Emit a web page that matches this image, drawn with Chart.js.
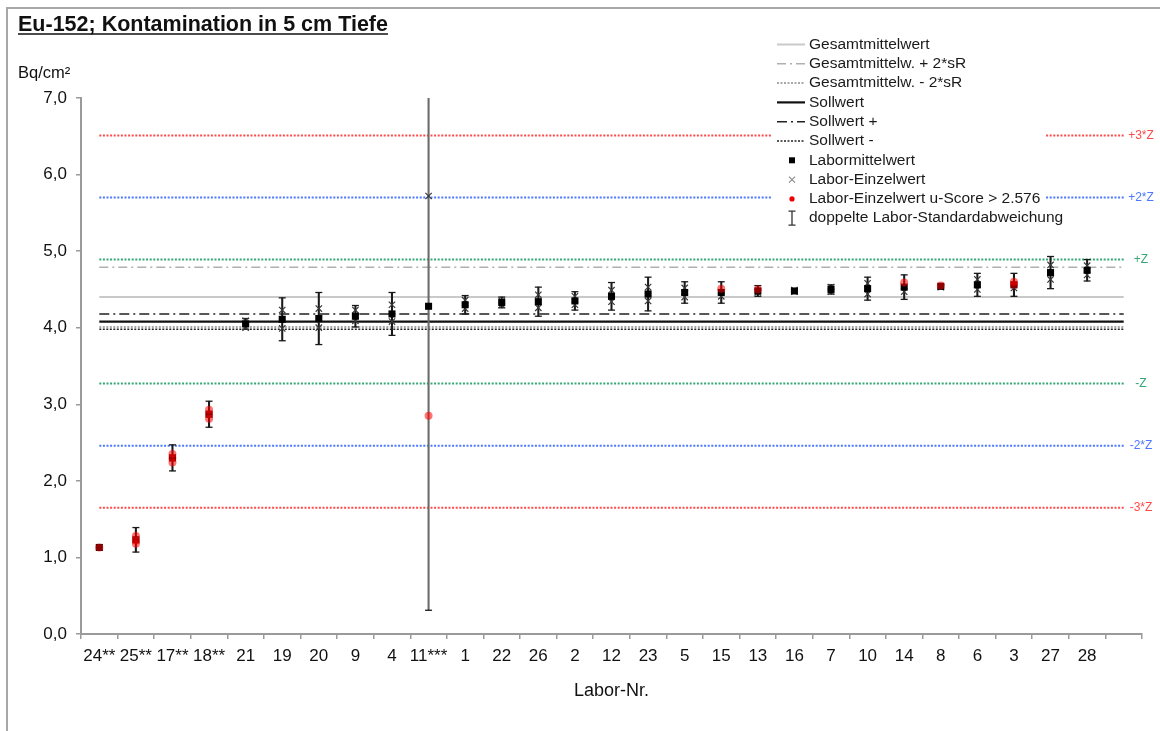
<!DOCTYPE html>
<html>
<head>
<meta charset="utf-8">
<title>Eu-152; Kontamination in 5 cm Tiefe</title>
<script src="https://cdn.jsdelivr.net/npm/chart.js@4.4.1/dist/chart.umd.min.js"></script>
<style>
  html, body { margin: 0; padding: 0; background: #fff; }
  canvas { display: block; }
</style>
</head>
<body>
<canvas id="chart" width="1160" height="731"></canvas>
<script>
// ---- Data -------------------------------------------------------------
const labs = ['24**','25**','17**','18**','21','19','20','9','4','11***','1','22','26','2','12',
              '23','5','15','13','16','7','10','14','8','6','3','27','28'];

// Labormittelwert (Bq/cm²)
const means = [1.13,1.23,2.30,2.87,4.05,4.11,4.12,4.15,4.18,4.28,4.30,4.33,4.34,4.35,4.41,
               4.44,4.46,4.46,4.48,4.48,4.50,4.51,4.53,4.54,4.56,4.56,4.72,4.75];

// doppelte Labor-Standardabweichung (half length of each error bar)
const sd2 = [0.00,0.16,0.17,0.17,0.07,0.28,0.34,0.14,0.28,3.97,0.12,0.07,0.19,0.12,0.18,
             0.22,0.14,0.14,0.07,0.01,0.06,0.15,0.16,0.02,0.15,0.15,0.21,0.14];

// Labor-Einzelwerte, one list per lab
const einzel = [[],[],[],[],[4.09,4.00],[4.23,3.99],[4.25,4.00],[4.23,4.09],[4.30,4.08],[5.72],
                [4.36,4.25],[4.35,4.30],[4.43,4.26],[4.41,4.30],[4.49,4.34],[4.53,4.35],[4.52,4.40],
                [4.41],[4.46],[4.49,4.47],[4.53,4.47],[4.58,4.44],[4.47],[4.53],[4.63,4.50],[4.52],
                [4.82,4.63],[4.81,4.69]];

// Labor-Einzelwerte with u-Score > 2.576, one list per lab
const einzelU = [[1.13],[1.28,1.18,1.22],[2.35,2.24,2.30],[2.93,2.81,2.87],[],[],[],[],[],[2.85],
                 [],[],[],[],[],[],[],[4.51],[4.50],[],[],[],[4.59],[4.55],[],[4.60,4.56],[],[]];

// Reference levels
const gesamtmittel = [4.40, 4.79, 4.01];   // Mittelwert, +2*sR, -2*sR
const sollwerte    = [4.08, 4.18, 3.98];   // Sollwert, +, -
const zLevels = [6.51, 5.70, 4.89, 3.27, 2.46, 1.65];
const zNames  = ['+3*Z', '+2*Z', '+Z', '-Z', '-2*Z', '-3*Z'];

const legendLabels = ['Gesamtmittelwert','Gesamtmittelw. + 2*sR','Gesamtmittelw. - 2*sR','Sollwert',
                      'Sollwert +','Sollwert -','Labormittelwert','Labor-Einzelwert',
                      'Labor-Einzelwert u-Score > 2.576','doppelte Labor-Standardabweichung'];

// ---- Chart setup ------------------------------------------------------
const FONT = "'Liberation Sans', Arial, sans-serif";
const categories = labs.concat(['']);          // one empty slot at the right end
const last = categories.length - 1;

const RED = '#ff4a4a', BLUE = '#4d78ff', GREEN = '#35a676';
const zColors = [RED, BLUE, GREEN, GREEN, BLUE, RED];

function levelLine(v, color, dash, width, order) {
  return {
    type: 'line',
    data: categories.map((_, i) => (i === 0 || i === last) ? v : null),
    spanGaps: true,
    borderColor: color,
    borderDash: dash,
    borderWidth: width,
    borderCapStyle: 'butt',
    pointRadius: 0,
    fill: false,
    order: order
  };
}

function pointsOf(lists) {
  const pts = [];
  lists.forEach((vals, i) => vals.forEach(v => pts.push({ x: labs[i], y: v })));
  return pts;
}

const lineStyles = [
  { color: '#c9c9c9', dash: [],            width: 2   },
  { color: '#b0b0b0', dash: [9, 4, 2, 4],  width: 1.5 },
  { color: '#8c8c8c', dash: [2, 1.5],      width: 1.5 },
  { color: '#111111', dash: [],            width: 2.2 },
  { color: '#222222', dash: [10, 4, 2, 4], width: 1.6 },
  { color: '#222222', dash: [2, 1.5],      width: 1.5 }
];

const datasets = [
  // markers (drawn on top)
  {
    type: 'line', label: legendLabels[8], data: pointsOf(einzelU), showLine: false,
    pointStyle: 'circle', pointRadius: 4, pointBackgroundColor: 'rgba(255,0,0,0.55)',
    pointBorderWidth: 0, order: 1
  },
  {
    type: 'line', label: legendLabels[6], data: labs.map((l, i) => ({ x: l, y: means[i] })), showLine: false,
    pointStyle: 'rect', pointRadius: 5, pointBackgroundColor: '#000', pointBorderColor: '#000',
    pointBorderWidth: 0, order: 2
  },
  {
    type: 'line', label: legendLabels[7], data: pointsOf(einzel), showLine: false,
    pointStyle: 'crossRot', pointRadius: 4.5, pointBorderColor: '#3a3a3a', pointBorderWidth: 1.2,
    order: 3
  },
  // error bars as thin floating bars
  {
    type: 'bar', label: legendLabels[9],
    data: labs.map((l, i) => [means[i] - sd2[i], means[i] + sd2[i]]),
    barThickness: 1.4, grouped: false,
    backgroundColor: ctx => (ctx.raw && ctx.raw[1] - ctx.raw[0] > 3 ? '#6a6a6a' : '#1a1a1a'),
    borderWidth: 0, order: 4
  }
];

gesamtmittel.forEach((v, i) => datasets.push(
  Object.assign(levelLine(v, lineStyles[i].color, lineStyles[i].dash, lineStyles[i].width, 6), { label: legendLabels[i] })));
sollwerte.forEach((v, i) => datasets.push(
  Object.assign(levelLine(v, lineStyles[i + 3].color, lineStyles[i + 3].dash, lineStyles[i + 3].width, 5), { label: legendLabels[i + 3] })));
zLevels.forEach((v, i) => datasets.push(
  Object.assign(levelLine(v, zColors[i], [2, 1.6], 2, 7), { label: zNames[i] })));

// ---- Plugins ----------------------------------------------------------
const pagePlugin = {
  id: 'page',
  beforeDraw(chart) {
    const c = chart.ctx;
    c.save();
    c.fillStyle = '#fff';
    c.fillRect(0, 0, chart.width, chart.height);
    // frame
    c.strokeStyle = '#a8a8a8';
    c.lineWidth = 2;
    c.beginPath();
    c.moveTo(7, chart.height);
    c.lineTo(7, 8);
    c.lineTo(chart.width, 8);
    c.stroke();
    // heading
    c.fillStyle = '#111';
    c.font = 'bold 21.5px ' + FONT;
    c.textBaseline = 'alphabetic';
    c.textAlign = 'left';
    const t = 'Eu-152; Kontamination in 5 cm Tiefe';
    c.fillText(t, 18, 31);
    const w = c.measureText(t).width;
    c.lineWidth = 1.6;
    c.strokeStyle = '#111';
    c.beginPath();
    c.moveTo(18, 34);
    c.lineTo(18 + w, 34);
    c.stroke();
    // unit
    c.font = '16.5px ' + FONT;
    c.fillText('Bq/cm²', 18, 78);
    c.restore();
  }
};

const capsPlugin = {
  id: 'caps',
  afterDatasetDraw(chart, args) {
    const ds = chart.data.datasets[args.index];
    if (ds.type !== 'bar') return;
    const c = chart.ctx, a = chart.chartArea;
    c.save();
    c.beginPath();
    c.rect(a.left, a.top, a.right - a.left, a.bottom - a.top);
    c.clip();
    c.strokeStyle = '#1a1a1a';
    c.lineWidth = 1.3;
    args.meta.data.forEach((el, i) => {
      if (sd2[i] <= 0.02) return;
      [el.y, el.base].forEach(py => {
        c.beginPath();
        c.moveTo(el.x - 3.5, py);
        c.lineTo(el.x + 3.5, py);
        c.stroke();
      });
    });
    c.restore();
  }
};

function drawSymbol(c, kind, x, y) {
  c.save();
  if (kind < 6) {
    const s = lineStyles[kind];
    c.strokeStyle = s.color;
    c.lineWidth = s.width;
    c.setLineDash(s.dash);
    c.beginPath();
    c.moveTo(777, y);
    c.lineTo(805, y);
    c.stroke();
  } else if (kind === 6) {
    c.fillStyle = '#000';
    c.fillRect(x - 3, y - 3, 6, 6);
  } else if (kind === 7) {
    c.strokeStyle = '#8a8a8a';
    c.lineWidth = 1.1;
    c.beginPath();
    c.moveTo(x - 3, y - 3); c.lineTo(x + 3, y + 3);
    c.moveTo(x + 3, y - 3); c.lineTo(x - 3, y + 3);
    c.stroke();
  } else if (kind === 8) {
    c.fillStyle = '#ee0000';
    c.beginPath();
    c.arc(x, y, 2.6, 0, Math.PI * 2);
    c.fill();
  } else {
    c.strokeStyle = '#333';
    c.lineWidth = 1.3;
    c.beginPath();
    c.moveTo(x, y - 7); c.lineTo(x, y + 7);
    c.moveTo(x - 3.5, y - 7); c.lineTo(x + 3.5, y - 7);
    c.moveTo(x - 3.5, y + 7); c.lineTo(x + 3.5, y + 7);
    c.stroke();
  }
  c.restore();
}

const overlayPlugin = {
  id: 'overlay',
  afterDraw(chart) {
    const c = chart.ctx;
    const ys = chart.scales.y;
    c.save();
    // Z labels at the right end of each limit line
    c.font = '12px ' + FONT;
    c.textAlign = 'center';
    c.textBaseline = 'middle';
    zLevels.forEach((v, i) => {
      c.fillStyle = zColors[i];
      c.fillText(zNames[i], 1141, ys.getPixelForValue(v));
    });
    // legend
    c.fillStyle = '#fff';
    c.fillRect(772, 34, 274, 196);
    c.font = '15.5px ' + FONT;
    c.textAlign = 'left';
    c.textBaseline = 'middle';
    legendLabels.forEach((txt, i) => {
      const y = 44.5 + 19.3 * i;
      drawSymbol(c, i, 792, y);
      c.fillStyle = '#1a1a1a';
      c.fillText(txt, 809, y);
    });
    c.restore();
  }
};

// ---- Chart ------------------------------------------------------------
new Chart(document.getElementById('chart'), {
  type: 'line',
  data: { labels: categories, datasets: datasets },
  options: {
    responsive: false,
    animation: false,
    devicePixelRatio: 1,
    layout: { padding: { left: 0, right: 18, top: 98, bottom: 0 } },
    plugins: { legend: { display: false }, tooltip: { enabled: false } },
    scales: {
      x: {
        type: 'category',
        offset: true,
        grid: { drawOnChartArea: false, offset: true, tickLength: 5, color: '#9a9a9a', lineWidth: 1.5 },
        border: { color: '#9a9a9a', width: 2 },
        ticks: { autoSkip: false, maxRotation: 0, minRotation: 0, padding: 7, color: '#111',
                 font: { family: FONT, size: 17 } },
        title: { display: true, text: 'Labor-Nr.', color: '#111', font: { family: FONT, size: 18 },
                 padding: { top: 0, bottom: 29 } },
        afterFit(s) { s.height = 97; }
      },
      y: {
        min: 0, max: 7,
        grid: { drawOnChartArea: false, tickLength: 5, color: '#9a9a9a', lineWidth: 1.5 },
        border: { color: '#9a9a9a', width: 2 },
        ticks: { stepSize: 1, padding: 9, color: '#111', font: { family: FONT, size: 17 },
                 callback: v => v.toFixed(1).replace('.', ',') },
        afterFit(s) { s.width = 81; }
      }
    }
  },
  plugins: [pagePlugin, capsPlugin, overlayPlugin]
});
</script>
</body>
</html>
